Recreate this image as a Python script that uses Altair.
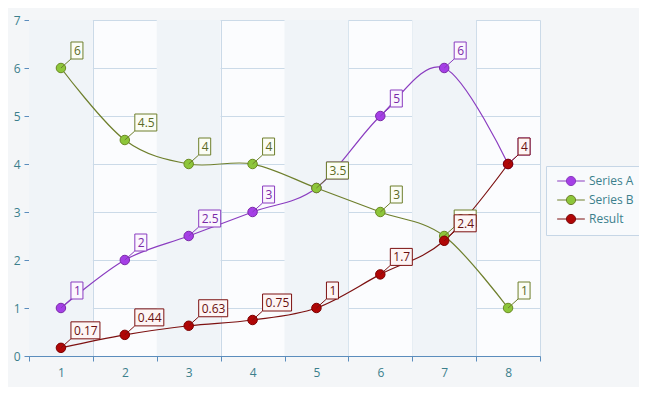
import altair as alt
import pandas as pd

# ---- data ----
categories = [1, 2, 3, 4, 5, 6, 7, 8]
series_names = ["Series A", "Series B", "Result"]
series_a = [1, 2, 2.5, 3, 3.5, 5, 6, 4]
series_b = [6, 4.5, 4, 4, 3.5, 3, 2.5, 1]
result = [0.17, 0.44, 0.63, 0.75, 1, 1.7, 2.4, 4]
y_ticks = [0, 1, 2, 3, 4, 5, 6, 7]

# ---- styles ----
line_colors = ["#8a3cc0", "#6e7f2c", "#7c1010"]
point_fills = ["#a53fe6", "#8dc63a", "#b00606"]
point_strokes = ["#7a2aa8", "#6a8a22", "#7c0000"]
label_fills = ["#fbf6fe", "#fbfdf5", "#fdf5f5"]
label_text = ["#7a2aa8", "#5c6b25", "#6a1010"]
axis_color = "#5b8dbd"
grid_color = "#cbdae8"
tick_label_color = "#3b7f8c"
FONT = "Open Sans"

W, H = 511, 336
X_DOMAIN = [categories[0] - 0.5, categories[-1] + 0.5]
PPU = W / (X_DOMAIN[1] - X_DOMAIN[0])

rows = []
for name, vals in zip(series_names, [series_a, series_b, result]):
    for c, v in zip(categories, vals):
        rows.append({"cat": c, "series": name, "value": v})
df = pd.DataFrame(rows)

bands = pd.DataFrame({"lo": [c - 0.5 for c in categories if c % 2 == 1],
                      "hi": [c + 0.5 for c in categories if c % 2 == 1]})

x_vals = sorted(set([c for c in categories] + [c - 0.5 for c in categories] + [c + 0.5 for c in categories]))
half = "datum.value % 1 != 0"

x_axis = alt.Axis(
    values=x_vals, title=None,
    labelExpr="datum.value % 1 == 0 ? format(datum.value, 'd') : ''",
    tickOpacity={"condition": {"test": half, "value": 1}, "value": 0},
    gridOpacity={"condition": {"test": half, "value": 1}, "value": 0},
    grid=True, gridColor=grid_color, domainColor=axis_color, tickColor=axis_color,
    tickSize=5, labelColor=tick_label_color, labelFont=FONT, labelFontSize=12,
    labelPadding=6, labelFlush=False, labelOverlap=False,
)
y_axis = alt.Axis(
    values=y_ticks, title=None, grid=True, gridColor=grid_color,
    domainColor=axis_color, tickColor=axis_color, tickSize=5,
    labelColor=tick_label_color, labelFont=FONT, labelFontSize=12, labelPadding=4,
)
x_scale = alt.Scale(domain=X_DOMAIN, nice=False, zero=False)
y_scale = alt.Scale(domain=[y_ticks[0], y_ticks[-1]], nice=False)

band_layer = alt.Chart(bands).mark_rect(color="#f0f4f8").encode(
    x=alt.X("lo:Q", scale=x_scale, axis=x_axis),
    x2="hi:Q",
)

base = alt.Chart(df).encode(
    x=alt.X("cat:Q", scale=x_scale, axis=x_axis),
    y=alt.Y("value:Q", scale=y_scale, axis=y_axis),
)

legend = alt.Legend(
    title=None, orient="none", legendX=517, legendY=146,
    symbolType="M-3,0L-1,0M1,0L3,0M-1,0A1,1 0 1,0 1,0A1,1 0 1,0 -1,0Z",
    symbolSize=85, symbolStrokeWidth=1, symbolOffset=10,
    labelFont=FONT, labelFontSize=12, labelColor=tick_label_color, labelOffset=12,
    padding=9, rowPadding=5, fillColor="#f8fafc", strokeColor="#c6d6e6",
)
stroke_enc = alt.Stroke("series:N", scale=alt.Scale(domain=series_names, range=line_colors),
                        sort=series_names, legend=legend)
fill_enc = alt.Fill("series:N", scale=alt.Scale(domain=series_names, range=point_fills),
                    sort=series_names, legend=legend)

lines = base.mark_line(interpolate="cardinal", strokeWidth=1.2).encode(stroke=stroke_enc)

layers = [band_layer, lines]

for i, name in enumerate(series_names):
    sub = base.transform_filter(alt.datum.series == name)
    pts = sub.mark_point(filled=True, size=90, opacity=1, strokeWidth=1,
                         stroke=point_strokes[i]).encode(
        fill=fill_enc, stroke=alt.value(point_strokes[i]))
    lab = sub.transform_calculate(
        label="format(datum.value, '~g')"
    ).transform_calculate(
        nodot="replace(datum.label, '.', '')"
    ).transform_calculate(
        w="5 + 7*length(datum.nodot) + 3*(length(datum.label) - length(datum.nodot))"
    ).transform_calculate(
        xr=f"datum.cat + datum.w / {PPU}"
    )
    leader = lab.mark_rule(color=line_colors[i], strokeWidth=1, x2Offset=10, y2Offset=-9).encode(
        x2="cat:Q", y2="value:Q")
    box = lab.mark_rect(fill=label_fills[i], stroke=line_colors[i], strokeWidth=1,
                        xOffset=10, x2Offset=10, yOffset=-9, y2Offset=-26).encode(
        x2="xr:Q", y2="value:Q")
    txt = lab.mark_text(align="left", baseline="middle", dx=13, dy=-17, font=FONT,
                        fontSize=12, color=label_text[i]).encode(text="label:N")
    layers += [pts, leader, box, txt]

chart = alt.layer(*layers).properties(
    width=W, height=H, background="#f4f6f8",
    padding={"left": 21, "top": 12, "right": 99, "bottom": 31},
    autosize=alt.AutoSizeParams(type="none"),
).configure_view(fill="#fbfcfe", stroke=None)

chart.save("out.html", embed_options={"renderer": "svg", "actions": False})
